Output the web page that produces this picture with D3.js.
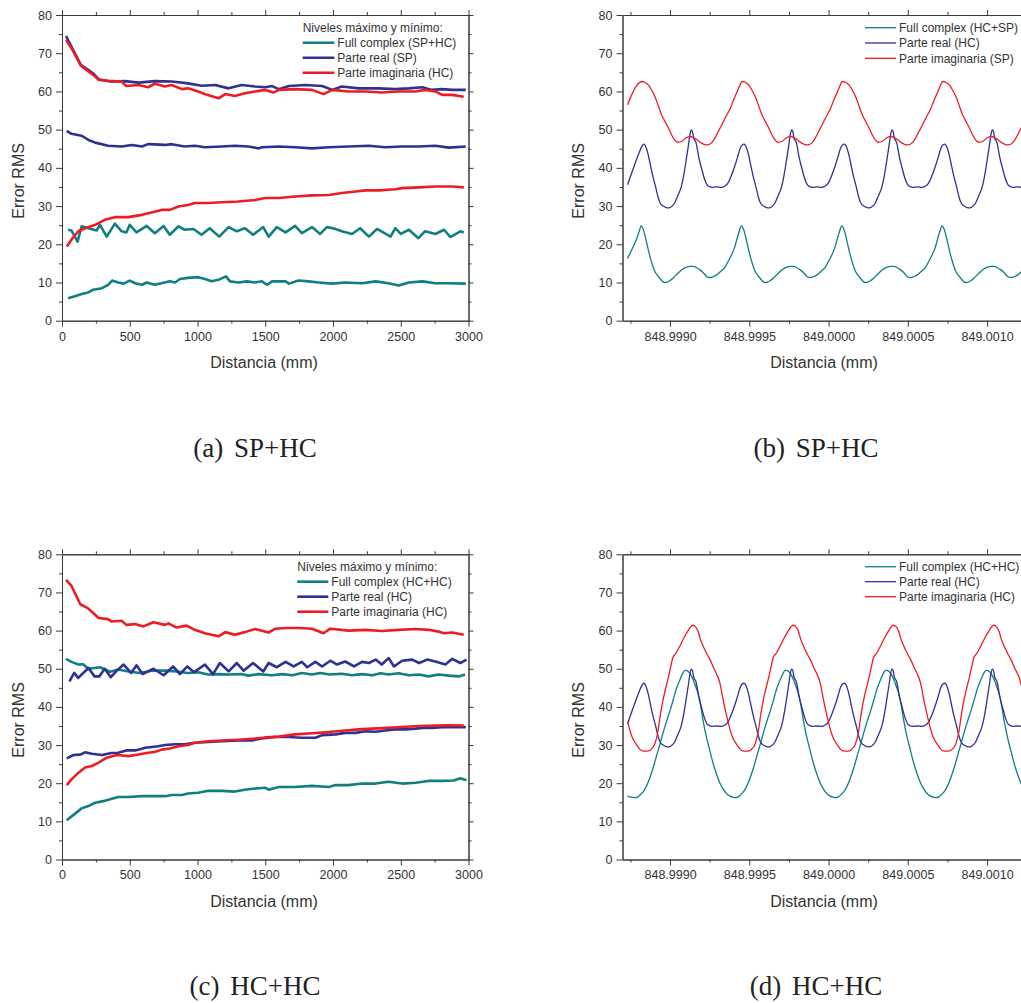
<!DOCTYPE html>
<html><head><meta charset="utf-8">
<script src="https://cdn.jsdelivr.net/npm/d3@7"></script>
<style>body{margin:0;background:#fff}svg{display:block}</style>
</head><body>
<script>
// ---------- DATA ----------
// Panel (a) SP+HC  [Distancia mm, Error RMS]
const aTealMax=[[45,23.8],[70,23.6],[115,20.7],[145,24.7],[195,24.2],[255,23.6],[280,25.1],[330,22.0],[390,25.4],[440,23.4],[475,23.1],[500,25.1],[550,23.1],[625,24.8],[685,22.9],[750,24.8],[795,22.5],[860,24.7],[905,23.8],[970,24.0],[1030,22.5],[1090,24.2],[1160,22.0],[1230,24.5],[1290,23.4],[1350,24.2],[1410,22.5],[1485,24.5],[1525,22.0],[1585,24.5],[1650,23.1],[1720,24.8],[1770,22.9],[1845,24.5],[1905,22.7],[1955,24.5],[2010,24.1],[2065,23.4],[2140,22.7],[2200,24.2],[2265,22.0],[2325,24.0],[2425,22.0],[2460,24.2],[2500,22.7],[2560,23.8],[2630,21.6],[2680,23.4],[2755,22.7],[2820,23.8],[2865,21.9],[2940,23.4],[2965,23.1]];
const aTealMin=[[45,5.9],[95,6.4],[145,7.0],[195,7.4],[230,8.1],[295,8.5],[340,9.4],[370,10.5],[415,10.0],[455,9.7],[500,10.5],[540,9.8],[590,9.4],[625,10.0],[685,9.4],[735,9.8],[795,10.3],[835,10.0],[870,10.9],[930,11.2],[1005,11.4],[1055,10.9],[1105,10.3],[1155,10.7],[1210,11.6],[1240,10.3],[1300,10.0],[1365,10.3],[1425,10.0],[1475,10.3],[1515,9.4],[1550,10.3],[1650,10.3],[1675,9.7],[1745,10.5],[1820,10.3],[1895,10.0],[1995,9.7],[2090,10.0],[2215,9.8],[2315,10.3],[2410,9.8],[2485,9.2],[2560,10.0],[2660,10.3],[2755,9.8],[2855,9.8],[2980,9.7]];
const aBlueMax=[[30,74.5],[70,71.7],[140,66.9],[195,65.6],[230,64.7],[270,63.2],[355,62.6],[465,62.7],[565,62.3],[685,62.7],[810,62.6],[930,62.1],[1030,61.5],[1130,61.7],[1230,60.8],[1325,61.7],[1425,61.3],[1500,61.1],[1550,61.4],[1600,60.6],[1675,61.4],[1795,61.7],[1920,61.4],[1995,60.4],[2065,61.3],[2190,60.8],[2340,60.8],[2460,60.6],[2560,60.8],[2660,61.1],[2730,60.4],[2805,60.6],[2880,60.4],[2980,60.4]];
const aBlueMin=[[35,49.7],[70,48.9],[145,48.4],[195,47.3],[245,46.6],[340,45.8],[440,45.6],[515,46.0],[590,45.6],[635,46.2],[760,46.0],[810,46.2],[905,45.6],[980,45.8],[1055,45.4],[1180,45.6],[1275,45.8],[1375,45.6],[1450,45.1],[1475,45.4],[1600,45.6],[1720,45.4],[1845,45.1],[1970,45.4],[2115,45.6],[2265,45.8],[2385,45.4],[2510,45.6],[2635,45.6],[2755,45.8],[2855,45.3],[2980,45.6]];
const aRedMax=[[30,73.5],[70,71.3],[140,66.7],[195,65.2],[245,63.9],[270,63.0],[340,62.8],[440,62.6],[475,61.4],[565,61.7],[635,61.1],[685,62.0],[760,61.3],[810,61.7],[885,60.6],[930,60.8],[1005,60.0],[1070,59.1],[1155,58.2],[1205,59.3],[1275,58.8],[1350,59.5],[1425,60.0],[1500,60.4],[1560,59.7],[1600,60.4],[1720,60.6],[1845,60.4],[1930,59.3],[1995,60.4],[2115,60.0],[2240,60.0],[2360,59.7],[2485,60.0],[2610,60.0],[2680,60.4],[2755,60.0],[2805,59.1],[2880,59.1],[2965,58.6]];
const aRedMin=[[35,19.4],[70,21.2],[120,23.4],[170,24.2],[245,25.1],[315,26.4],[390,27.1],[490,27.1],[590,27.7],[660,28.3],[735,29.0],[795,29.0],[860,29.9],[930,30.3],[980,30.8],[1080,30.8],[1180,31.0],[1300,31.2],[1425,31.6],[1500,32.1],[1600,32.1],[1720,32.5],[1845,32.8],[1970,32.9],[2065,33.4],[2165,33.8],[2240,34.1],[2340,34.1],[2460,34.4],[2510,34.7],[2635,34.9],[2755,35.1],[2880,35.1],[2965,34.9]];

// Panel (c) HC+HC
const cTealMax=[[30,52.6],[70,51.8],[120,51.1],[155,51.2],[195,50.0],[280,50.4],[355,49.2],[415,49.8],[490,49.3],[575,48.9],[660,49.5],[760,49.5],[845,49.3],[930,48.9],[1005,49.1],[1080,48.5],[1155,48.6],[1230,48.5],[1325,48.6],[1375,48.2],[1450,48.6],[1550,48.3],[1625,48.6],[1700,48.3],[1770,48.9],[1845,48.5],[1905,48.9],[1980,48.5],[2065,48.7],[2140,48.3],[2215,48.6],[2290,48.3],[2350,48.8],[2410,48.5],[2485,48.8],[2560,48.3],[2635,48.5],[2705,48.0],[2780,48.5],[2855,48.2],[2930,48.0],[2975,48.5]];
const cTealMin=[[35,10.3],[85,11.7],[145,13.4],[195,14.0],[245,14.9],[305,15.3],[355,15.8],[415,16.4],[490,16.4],[590,16.6],[685,16.6],[760,16.6],[810,16.9],[885,16.9],[930,17.3],[1005,17.5],[1080,18.0],[1180,18.0],[1275,17.8],[1350,18.3],[1425,18.6],[1500,18.8],[1525,18.3],[1600,19.0],[1720,19.0],[1845,19.3],[1970,19.0],[2020,19.5],[2115,19.5],[2215,19.9],[2315,19.9],[2410,20.4],[2510,19.9],[2610,20.1],[2705,20.6],[2805,20.6],[2890,20.7],[2940,21.3],[2985,20.8]];
const cBlueMax=[[55,46.7],[90,48.9],[120,47.6],[195,50.2],[240,48.0],[275,48.0],[315,50.0],[360,47.8],[405,49.5],[455,51.1],[510,48.9],[550,50.9],[595,48.6],[675,50.0],[750,48.3],[820,50.6],[870,48.6],[925,50.6],[975,49.1],[1055,51.1],[1115,48.6],[1165,51.5],[1230,49.3],[1290,51.5],[1340,49.5],[1410,51.5],[1485,49.3],[1525,51.5],[1585,50.4],[1650,51.8],[1710,50.6],[1770,51.8],[1810,50.4],[1870,51.8],[1920,50.6],[1980,52.1],[2030,51.1],[2090,51.9],[2155,50.6],[2215,51.8],[2265,51.5],[2315,52.4],[2360,51.1],[2410,52.8],[2450,50.6],[2510,52.1],[2585,52.4],[2635,51.5],[2695,52.4],[2755,51.9],[2830,51.1],[2880,52.6],[2940,51.5],[2985,52.4]];
const cBlueMin=[[35,26.5],[85,27.4],[135,27.5],[170,28.1],[220,27.7],[295,27.4],[365,27.9],[415,28.0],[475,28.6],[540,28.6],[615,29.3],[710,29.7],[760,30.0],[835,30.2],[905,30.2],[980,30.6],[1080,30.8],[1180,31.0],[1300,31.2],[1400,31.2],[1475,31.7],[1575,32.1],[1675,32.1],[1770,31.9],[1870,31.9],[1920,32.6],[2020,32.8],[2090,33.2],[2165,33.2],[2240,33.6],[2315,33.5],[2385,33.8],[2460,34.1],[2535,34.1],[2610,34.3],[2660,34.5],[2730,34.5],[2805,34.7],[2880,34.7],[2980,34.7]];
const cRedMax=[[30,73.3],[70,71.7],[135,66.9],[190,65.9],[230,64.6],[270,63.3],[340,63.0],[365,62.4],[440,62.6],[475,61.5],[540,61.7],[600,61.1],[675,62.2],[760,61.5],[785,61.9],[845,60.8],[920,61.3],[980,60.2],[1055,59.3],[1155,58.5],[1205,59.6],[1275,58.9],[1350,59.6],[1425,60.4],[1525,59.5],[1575,60.5],[1650,60.7],[1745,60.7],[1845,60.5],[1930,59.3],[1980,60.5],[2115,60.0],[2240,60.2],[2360,59.9],[2485,60.2],[2610,60.4],[2705,60.2],[2770,59.8],[2820,59.3],[2880,59.5],[2965,58.9]];
const cRedMin=[[35,19.5],[70,21.0],[120,22.7],[170,24.1],[220,24.5],[270,25.4],[330,26.7],[405,27.4],[490,27.1],[565,27.5],[635,28.0],[685,28.2],[735,28.8],[795,29.1],[860,29.7],[930,30.0],[980,30.6],[1080,31.0],[1180,31.2],[1300,31.4],[1425,31.7],[1500,32.0],[1600,32.2],[1720,32.8],[1845,33.1],[1970,33.4],[2090,33.8],[2190,34.1],[2290,34.3],[2410,34.5],[2535,34.8],[2635,35.0],[2755,35.1],[2855,35.2],[2965,35.1]];

// Panel (b) HC+SP  [Distancia mm, Error RMS]
const bTeal=[[848.998732,16.3],[848.998768,19.4],[848.998790,21.5],[848.998805,23.3],[848.998817,24.8],[848.998830,24.0],[848.998853,20.3],[848.998867,17.8],[848.998885,15.1],[848.998905,12.8],[848.998926,11.6],[848.998943,10.7],[848.998964,10.0],[848.998981,10.1],[848.999000,10.5],[848.999025,11.4],[848.999052,12.5],[848.999076,13.4],[848.999105,14.0],[848.999126,14.2],[848.999147,14.2],[848.999170,13.8],[848.999189,13.3],[848.999208,12.6],[848.999221,12.0],[848.999233,11.5],[848.999252,11.3],[848.999271,11.5],[848.999295,12.0],[848.999322,13.0],[848.999347,14.0],[848.999366,15.5],[848.999389,17.3],[848.999404,18.8],[848.999421,21.2],[848.999435,23.2],
[848.999450,24.8],[848.999463,24.0],[848.999486,20.3],[848.999500,17.8],[848.999518,15.1],[848.999538,12.8],[848.999559,11.6],[848.999576,10.7],[848.999597,10.0],[848.999614,10.1],[848.999633,10.5],[848.999658,11.4],[848.999685,12.5],[848.999709,13.4],[848.999738,14.0],[848.999759,14.2],[848.999780,14.2],[848.999803,13.8],[848.999822,13.3],[848.999841,12.6],[848.999854,12.0],[848.999866,11.5],[848.999885,11.3],[848.999904,11.5],[848.999928,12.0],[848.999955,13.0],[848.999980,14.0],[848.999999,15.5],[849.000022,17.3],[849.000037,18.8],[849.000054,21.2],[849.000068,23.2],
[849.000083,24.8],[849.000096,24.0],[849.000119,20.3],[849.000133,17.8],[849.000151,15.1],[849.000171,12.8],[849.000192,11.6],[849.000209,10.7],[849.000230,10.0],[849.000247,10.1],[849.000266,10.5],[849.000291,11.4],[849.000318,12.5],[849.000342,13.4],[849.000371,14.0],[849.000392,14.2],[849.000413,14.2],[849.000436,13.8],[849.000455,13.3],[849.000474,12.6],[849.000487,12.0],[849.000499,11.5],[849.000518,11.3],[849.000537,11.5],[849.000561,12.0],[849.000588,13.0],[849.000613,14.0],[849.000632,15.5],[849.000655,17.3],[849.000670,18.8],[849.000687,21.2],[849.000701,23.2],
[849.000716,24.8],[849.000729,24.0],[849.000752,20.3],[849.000766,17.8],[849.000784,15.1],[849.000804,12.8],[849.000825,11.6],[849.000842,10.7],[849.000863,10.0],[849.000880,10.1],[849.000899,10.5],[849.000924,11.4],[849.000951,12.5],[849.000975,13.4],[849.001004,14.0],[849.001025,14.2],[849.001046,14.2],[849.001069,13.8],[849.001088,13.3],[849.001107,12.6],[849.001120,12.0],[849.001132,11.5],[849.001151,11.3],[849.001170,11.5],[849.001194,12.0],[849.001221,13.0],[849.001246,14.0],[849.001265,15.5],[849.001288,17.3],[849.001303,18.8]];
const bdBlue=[[848.998732,35.6],[848.998765,39.5],[848.998808,44.3],[848.998824,45.8],[848.998833,46.2],[848.998842,45.9],[848.998860,43.8],[848.998877,40.5],[848.998892,37.7],[848.998909,35.0],[848.998923,32.5],[848.998940,30.6],[848.998961,29.9],[848.998986,29.5],[848.999003,29.7],[848.999029,30.8],[848.999048,32.6],[848.999071,35.1],[848.999085,37.8],[848.999102,42.1],[848.999117,46.2],[848.999126,48.8],[848.999134,49.9],[848.999141,49.6],[848.999148,48.0],[848.999165,46.4],[848.999180,43.0],[848.999201,39.5],[848.999218,37.0],[848.999239,35.3],[848.999264,34.9],[848.999294,35.0],[848.999323,34.9],[848.999344,35.2],[848.999365,36.0],[848.999382,37.5],[848.999407,40.3],[848.999426,42.8],[848.999439,44.7],[848.999451,45.8],
[848.999466,46.2],[848.999475,45.9],[848.999493,43.8],[848.999510,40.5],[848.999525,37.7],[848.999542,35.0],[848.999556,32.5],[848.999573,30.6],[848.999594,29.9],[848.999619,29.5],[848.999636,29.7],[848.999662,30.8],[848.999681,32.6],[848.999704,35.1],[848.999718,37.8],[848.999735,42.1],[848.999750,46.2],[848.999759,48.8],[848.999767,49.9],[848.999774,49.6],[848.999781,48.0],[848.999798,46.4],[848.999813,43.0],[848.999834,39.5],[848.999851,37.0],[848.999872,35.3],[848.999897,34.9],[848.999927,35.0],[848.999956,34.9],[848.999977,35.2],[848.999998,36.0],[849.000015,37.5],[849.000040,40.3],[849.000059,42.8],[849.000072,44.7],[849.000084,45.8],
[849.000099,46.2],[849.000108,45.9],[849.000126,43.8],[849.000143,40.5],[849.000158,37.7],[849.000175,35.0],[849.000189,32.5],[849.000206,30.6],[849.000227,29.9],[849.000252,29.5],[849.000269,29.7],[849.000295,30.8],[849.000314,32.6],[849.000337,35.1],[849.000351,37.8],[849.000368,42.1],[849.000383,46.2],[849.000392,48.8],[849.000400,49.9],[849.000407,49.6],[849.000414,48.0],[849.000431,46.4],[849.000446,43.0],[849.000467,39.5],[849.000484,37.0],[849.000505,35.3],[849.000530,34.9],[849.000560,35.0],[849.000589,34.9],[849.000610,35.2],[849.000631,36.0],[849.000648,37.5],[849.000673,40.3],[849.000692,42.8],[849.000705,44.7],[849.000717,45.8],
[849.000732,46.2],[849.000741,45.9],[849.000759,43.8],[849.000776,40.5],[849.000791,37.7],[849.000808,35.0],[849.000822,32.5],[849.000839,30.6],[849.000860,29.9],[849.000885,29.5],[849.000902,29.7],[849.000928,30.8],[849.000947,32.6],[849.000970,35.1],[849.000984,37.8],[849.001001,42.1],[849.001016,46.2],[849.001025,48.8],[849.001033,49.9],[849.001040,49.6],[849.001047,48.0],[849.001064,46.4],[849.001079,43.0],[849.001100,39.5],[849.001117,37.0],[849.001138,35.3],[849.001163,34.9],[849.001193,35.0],[849.001222,34.9],[849.001243,35.2],[849.001264,36.0],[849.001281,37.5],[849.001306,40.3]];
const bRed=[[848.998732,56.5],[848.998760,59.3],[848.998790,61.6],[848.998808,62.3],[848.998821,62.6],[848.998840,62.4],[848.998863,61.7],[848.998884,60.3],[848.998905,58.6],[848.998928,56.0],[848.998947,53.8],[848.998966,52.3],[848.998985,50.8],[848.999010,48.6],[848.999029,47.3],[848.999048,46.7],[848.999073,46.9],[848.999099,47.8],[848.999126,48.2],[848.999149,47.9],[848.999168,47.4],[848.999193,46.6],[848.999218,46.1],[848.999237,46.0],[848.999263,46.6],[848.999283,47.8],[848.999307,49.7],[848.999326,51.2],[848.999351,53.3],[848.999378,55.4],[848.999401,57.8],[848.999420,59.6],[848.999439,61.5],
[848.999454,62.6],[848.999473,62.4],[848.999496,61.7],[848.999517,60.3],[848.999538,58.6],[848.999561,56.0],[848.999580,53.8],[848.999599,52.3],[848.999618,50.8],[848.999643,48.6],[848.999662,47.3],[848.999681,46.7],[848.999706,46.9],[848.999732,47.8],[848.999759,48.2],[848.999782,47.9],[848.999801,47.4],[848.999826,46.6],[848.999851,46.1],[848.999870,46.0],[848.999896,46.6],[848.999916,47.8],[848.999940,49.7],[848.999959,51.2],[848.999984,53.3],[849.000011,55.4],[849.000034,57.8],[849.000053,59.6],[849.000072,61.5],
[849.000087,62.6],[849.000106,62.4],[849.000129,61.7],[849.000150,60.3],[849.000171,58.6],[849.000194,56.0],[849.000213,53.8],[849.000232,52.3],[849.000251,50.8],[849.000276,48.6],[849.000295,47.3],[849.000314,46.7],[849.000339,46.9],[849.000365,47.8],[849.000392,48.2],[849.000415,47.9],[849.000434,47.4],[849.000459,46.6],[849.000484,46.1],[849.000503,46.0],[849.000529,46.6],[849.000549,47.8],[849.000573,49.7],[849.000592,51.2],[849.000617,53.3],[849.000644,55.4],[849.000667,57.8],[849.000686,59.6],[849.000705,61.5],
[849.000720,62.6],[849.000739,62.4],[849.000762,61.7],[849.000783,60.3],[849.000804,58.6],[849.000827,56.0],[849.000846,53.8],[849.000865,52.3],[849.000884,50.8],[849.000909,48.6],[849.000928,47.3],[849.000947,46.7],[849.000972,46.9],[849.000998,47.8],[849.001025,48.2],[849.001048,47.9],[849.001067,47.4],[849.001092,46.6],[849.001117,46.1],[849.001136,46.0],[849.001162,46.6],[849.001182,47.8],[849.001206,49.7],[849.001225,51.2],[849.001250,53.3],[849.001277,55.4],[849.001300,57.8]];

// Panel (d) HC+HC
const dTeal=[[848.998732,16.6],[848.998745,16.4],[848.998766,16.3],[848.998781,16.2],[848.998796,16.4],[848.998813,17.0],[848.998831,17.8],[848.998852,19.3],[848.998873,21.5],[848.998894,24.1],[848.998915,27.2],[848.998936,30.2],[848.998951,32.5],[848.998968,34.9],[848.998983,36.9],[848.998999,38.9],[848.999021,42.0],[848.999042,45.0],[848.999059,46.8],[848.999073,48.2],[848.999085,49.2],
[848.999094,49.6],[848.999107,49.5],[848.999119,49.1],[848.999134,48.2],[848.999146,47.1],[848.999162,45.3],[848.999178,43.2],[848.999192,40.5],[848.999209,36.3],[848.999230,32.0],[848.999252,28.4],[848.999271,25.3],[848.999294,22.3],[848.999315,20.0],[848.999336,18.4],[848.999356,17.3],[848.999378,16.6],[848.999399,16.3],[848.999414,16.2],[848.999429,16.4],[848.999446,17.0],[848.999464,17.8],[848.999485,19.3],[848.999506,21.5],[848.999527,24.1],[848.999548,27.2],[848.999569,30.2],[848.999584,32.5],[848.999601,34.9],[848.999616,36.9],[848.999632,38.9],[848.999654,42.0],[848.999675,45.0],[848.999692,46.8],[848.999706,48.2],[848.999718,49.2],
[848.999727,49.6],[848.999740,49.5],[848.999752,49.1],[848.999767,48.2],[848.999779,47.1],[848.999795,45.3],[848.999811,43.2],[848.999825,40.5],[848.999842,36.3],[848.999863,32.0],[848.999885,28.4],[848.999904,25.3],[848.999927,22.3],[848.999948,20.0],[848.999969,18.4],[848.999989,17.3],[849.000011,16.6],[849.000032,16.3],[849.000047,16.2],[849.000062,16.4],[849.000079,17.0],[849.000097,17.8],[849.000118,19.3],[849.000139,21.5],[849.000160,24.1],[849.000181,27.2],[849.000202,30.2],[849.000217,32.5],[849.000234,34.9],[849.000249,36.9],[849.000265,38.9],[849.000287,42.0],[849.000308,45.0],[849.000325,46.8],[849.000339,48.2],[849.000351,49.2],
[849.000360,49.6],[849.000373,49.5],[849.000385,49.1],[849.000400,48.2],[849.000412,47.1],[849.000428,45.3],[849.000444,43.2],[849.000458,40.5],[849.000475,36.3],[849.000496,32.0],[849.000518,28.4],[849.000537,25.3],[849.000560,22.3],[849.000581,20.0],[849.000602,18.4],[849.000622,17.3],[849.000644,16.6],[849.000665,16.3],[849.000680,16.2],[849.000695,16.4],[849.000712,17.0],[849.000730,17.8],[849.000751,19.3],[849.000772,21.5],[849.000793,24.1],[849.000814,27.2],[849.000835,30.2],[849.000850,32.5],[849.000867,34.9],[849.000882,36.9],[849.000898,38.9],[849.000920,42.0],[849.000941,45.0],[849.000958,46.8],[849.000972,48.2],[849.000984,49.2],
[849.000993,49.6],[849.001006,49.5],[849.001018,49.1],[849.001033,48.2],[849.001045,47.1],[849.001061,45.3],[849.001077,43.2],[849.001091,40.5],[849.001108,36.3],[849.001129,32.0],[849.001151,28.4],[849.001170,25.3],[849.001193,22.3],[849.001214,20.0],[849.001235,18.4],[849.001255,17.3],[849.001277,16.6],[849.001298,16.3]];
const dRed=[[848.998732,36.2],[848.998745,34.1],[848.998762,32.0],[848.998787,30.2],[848.998807,29.0],[848.998825,28.5],[848.998846,28.4],[848.998865,28.5],[848.998878,28.8],[848.998903,30.2],[848.998922,33.2],[848.998941,38.5],[848.998954,41.5],[848.998973,45.0],[848.998988,47.5],[848.999004,50.5],[848.999017,52.8],[848.999036,54.0],[848.999061,55.9],[848.999086,58.0],[848.999111,59.8],[848.999130,61.0],
[848.999143,61.4],[848.999156,61.2],[848.999175,60.0],[848.999193,57.5],[848.999209,55.9],[848.999231,54.0],[848.999252,52.4],[848.999275,50.2],[848.999294,48.6],[848.999313,46.5],[848.999321,45.0],[848.999332,42.5],[848.999346,39.7],[848.999364,36.5],[848.999378,34.1],[848.999395,32.0],[848.999420,30.2],[848.999440,29.0],[848.999458,28.5],[848.999479,28.4],[848.999498,28.5],[848.999511,28.8],[848.999536,30.2],[848.999555,33.2],[848.999574,38.5],[848.999587,41.5],[848.999606,45.0],[848.999621,47.5],[848.999637,50.5],[848.999650,52.8],[848.999669,54.0],[848.999694,55.9],[848.999719,58.0],[848.999744,59.8],[848.999763,61.0],
[848.999776,61.4],[848.999789,61.2],[848.999808,60.0],[848.999826,57.5],[848.999842,55.9],[848.999864,54.0],[848.999885,52.4],[848.999908,50.2],[848.999927,48.6],[848.999946,46.5],[848.999954,45.0],[848.999965,42.5],[848.999979,39.7],[848.999997,36.5],[849.000011,34.1],[849.000028,32.0],[849.000053,30.2],[849.000073,29.0],[849.000091,28.5],[849.000112,28.4],[849.000131,28.5],[849.000144,28.8],[849.000169,30.2],[849.000188,33.2],[849.000207,38.5],[849.000220,41.5],[849.000239,45.0],[849.000254,47.5],[849.000270,50.5],[849.000283,52.8],[849.000302,54.0],[849.000327,55.9],[849.000352,58.0],[849.000377,59.8],[849.000396,61.0],
[849.000409,61.4],[849.000422,61.2],[849.000441,60.0],[849.000459,57.5],[849.000475,55.9],[849.000497,54.0],[849.000518,52.4],[849.000541,50.2],[849.000560,48.6],[849.000579,46.5],[849.000587,45.0],[849.000598,42.5],[849.000612,39.7],[849.000630,36.5],[849.000644,34.1],[849.000661,32.0],[849.000686,30.2],[849.000706,29.0],[849.000724,28.5],[849.000745,28.4],[849.000764,28.5],[849.000777,28.8],[849.000802,30.2],[849.000821,33.2],[849.000840,38.5],[849.000853,41.5],[849.000872,45.0],[849.000887,47.5],[849.000903,50.5],[849.000916,52.8],[849.000935,54.0],[849.000960,55.9],[849.000985,58.0],[849.001010,59.8],[849.001029,61.0],
[849.001042,61.4],[849.001055,61.2],[849.001074,60.0],[849.001092,57.5],[849.001108,55.9],[849.001130,54.0],[849.001151,52.4],[849.001174,50.2],[849.001193,48.6],[849.001212,46.5],[849.001220,45.0],[849.001231,42.5],[849.001245,39.7],[849.001263,36.5],[849.001277,34.1],[849.001294,32.0]];

// Ticks and labels
const yMajor=[0,10,20,30,40,50,60,70,80];
const yMinor=[5,15,25,35,45,55,65,75];
const xMajorA=[0,500,1000,1500,2000,2500,3000];
const xMinorA=[250,750,1250,1750,2250,2750];
const xMajorB=[848.9990,848.9995,849.0000,849.0005,849.0010];
const xMinorB=[848.99875,848.99925,848.99975,849.00025,849.00075,849.00125];
const legendA=["Full complex (SP+HC)","Parte real (SP)","Parte imaginaria (HC)"];
const legendB=["Full complex (HC+SP)","Parte real (HC)","Parte imaginaria (SP)"];
const legendC=["Full complex (HC+HC)","Parte real (HC)","Parte imaginaria (HC)"];
const legendD=["Full complex (HC+HC)","Parte real (HC)","Parte imaginaria (HC)"];
const legendTitle="Niveles máximo y mínimo:";
const captions=["(a) SP+HC","(b) SP+HC","(c) HC+HC","(d) HC+HC"];
const yTitle="Error RMS", xTitle="Distancia (mm)";

// ---------- DRAW ----------
const W=1021,H=1003;
const COL={teal:"#0f7f80",blue:"#2e3192",red:"#ed1c24"};
const FONT="'Liberation Sans', Arial, sans-serif";
const svg=d3.select("body").append("svg").attr("width",W).attr("height",H)
  .style("font-family",FONT);

function styleAxis(g,size){
  g.attr("font-family",FONT).attr("font-size",size||12.5);
  g.select(".domain").attr("stroke","#3a3a3a").attr("stroke-width",1);
  g.selectAll(".tick line").attr("stroke","#3a3a3a").attr("stroke-width",1);
  g.selectAll(".tick text").attr("fill","#333");
}

function panel(cfg){
  const g=svg.append("g");
  const x=d3.scaleLinear().domain(cfg.xDomain).range([cfg.x0,cfg.x1]);
  const y=d3.scaleLinear().domain([0,80]).range([cfg.y1,cfg.y0]);
  const line=d3.line().x(d=>x(d[0])).y(d=>y(d[1])).curve(cfg.curve);
  // series (max levels / main curves, then min levels)
  cfg.series.forEach(s=>{
    g.append("path").datum(s.data).attr("fill","none").attr("stroke",s.color)
      .attr("stroke-width",cfg.lw).attr("stroke-linejoin","round").attr("d",line);
  });
  (cfg.extra||[]).forEach(s=>{
    g.append("path").datum(s.data).attr("fill","none").attr("stroke",s.color)
      .attr("stroke-width",cfg.lw).attr("stroke-linejoin","round").attr("d",line);
  });
  // axes
  const fmt=cfg.fmt;
  styleAxis(g.append("g").attr("transform",`translate(${cfg.x0},0)`)
    .call(d3.axisLeft(y).tickValues(yMajor).tickSize(6).tickPadding(4).tickSizeOuter(0)));
  styleAxis(g.append("g").attr("transform",`translate(${cfg.x0},0)`)
    .call(d3.axisLeft(y).tickValues(yMinor).tickSize(3).tickFormat("").tickSizeOuter(0)));
  styleAxis(g.append("g").attr("transform",`translate(0,${cfg.y1})`)
    .call(d3.axisBottom(x).tickValues(cfg.xMajor).tickSize(6).tickPadding(5).tickFormat(fmt).tickSizeOuter(0)));
  styleAxis(g.append("g").attr("transform",`translate(0,${cfg.y1})`)
    .call(d3.axisBottom(x).tickValues(cfg.xMinor).tickSize(3).tickFormat("").tickSizeOuter(0)));
  styleAxis(g.append("g").attr("transform",`translate(0,${cfg.y0})`)
    .call(d3.axisTop(x).tickValues(cfg.xMajor).tickSize(5).tickFormat("").tickSizeOuter(0)));
  styleAxis(g.append("g").attr("transform",`translate(0,${cfg.y0})`)
    .call(d3.axisTop(x).tickValues(cfg.xMinor).tickSize(3).tickFormat("").tickSizeOuter(0)));
  if(cfg.right){
    styleAxis(g.append("g").attr("transform",`translate(${cfg.x1},0)`)
      .call(d3.axisRight(y).tickValues(yMajor).tickSize(5).tickFormat("").tickSizeOuter(0)));
    styleAxis(g.append("g").attr("transform",`translate(${cfg.x1},0)`)
      .call(d3.axisRight(y).tickValues(yMinor).tickSize(3).tickFormat("").tickSizeOuter(0)));
  }
  // axis titles
  g.append("text").attr("transform",`translate(${cfg.yTitleX},${(cfg.y0+cfg.y1)/2+13}) rotate(-90)`)
    .attr("text-anchor","middle").attr("font-size",16).attr("fill","#333").text(yTitle);
  g.append("text").attr("x",cfg.xTitleX).attr("y",cfg.y1+47.5)
    .attr("text-anchor","middle").attr("font-size",16).attr("fill","#333").text(xTitle);
  // legend
  const L=cfg.legend;
  if(L.title){
    g.append("text").attr("x",L.x).attr("y",L.y0-11.2).attr("font-size",12).attr("fill","#333").text(legendTitle);
  }
  L.labels.forEach((t,i)=>{
    const yy=L.y0+i*L.dy;
    g.append("line").attr("x1",L.x).attr("x2",L.x+L.len).attr("y1",yy).attr("y2",yy)
      .attr("stroke",cfg.series[i].color).attr("stroke-width",cfg.lw);
    g.append("text").attr("x",L.x+L.len+3).attr("y",yy+4.3).attr("font-size",12).attr("fill","#333").text(t);
  });
  // caption
  svg.append("text").attr("x",cfg.capX).attr("y",cfg.capY).attr("text-anchor","middle")
    .attr("font-family","'Liberation Serif', 'DejaVu Serif', serif").attr("font-size",27)
    .attr("word-spacing",4).attr("fill","#222").text(cfg.caption);
}

const yTop1=15,yBot1=320.7,yTop2=554.3,yBot2=859.5;
const xA0=62,xA1=468.5,xB0=622.5,xB1=622.5+412.1;

panel({x0:xA0,x1:xA1,y0:yTop1,y1:yBot1,xDomain:[0,3000],xMajor:xMajorA,xMinor:xMinorA,fmt:d3.format("d"),
  curve:d3.curveLinear,lw:2.6,right:true,yTitleX:23.5,xTitleX:264,
  series:[{data:aTealMax,color:COL.teal},{data:aBlueMax,color:COL.blue},{data:aRedMax,color:COL.red}],
  extra:[{data:aTealMin,color:COL.teal},{data:aBlueMin,color:COL.blue},{data:aRedMin,color:COL.red}],
  legend:{title:true,x:302.7,y0:42.7,dy:15,len:31.6,labels:legendA},caption:captions[0],capX:255,capY:457});
panel({x0:xB0,x1:xB1,y0:yTop1,y1:yBot1,xDomain:[848.9987,849.0013],xMajor:xMajorB,xMinor:xMinorB,fmt:d3.format(".4f"),
  curve:d3.curveMonotoneX,lw:1.3,right:false,yTitleX:583.5,xTitleX:824,
  series:[{data:bTeal,color:COL.teal},{data:bdBlue,color:COL.blue},{data:bRed,color:COL.red}],
  legend:{title:false,x:865,y0:27.7,dy:15.3,len:31,labels:legendB},caption:captions[1],capX:816,capY:457});
panel({x0:xA0,x1:xA1,y0:yTop2,y1:yBot2,xDomain:[0,3000],xMajor:xMajorA,xMinor:xMinorA,fmt:d3.format("d"),
  curve:d3.curveLinear,lw:2.6,right:true,yTitleX:23.5,xTitleX:264,
  series:[{data:cTealMax,color:COL.teal},{data:cBlueMax,color:COL.blue},{data:cRedMax,color:COL.red}],
  extra:[{data:cTealMin,color:COL.teal},{data:cBlueMin,color:COL.blue},{data:cRedMin,color:COL.red}],
  legend:{title:true,x:297.3,y0:581.7,dy:15,len:31,labels:legendC},caption:captions[2],capX:255,capY:995});
panel({x0:xB0,x1:xB1,y0:yTop2,y1:yBot2,xDomain:[848.9987,849.0013],xMajor:xMajorB,xMinor:xMinorB,fmt:d3.format(".4f"),
  curve:d3.curveMonotoneX,lw:1.3,right:false,yTitleX:583.5,xTitleX:824,
  series:[{data:dTeal,color:COL.teal},{data:bdBlue,color:COL.blue},{data:dRed,color:COL.red}],
  legend:{title:false,x:865,y0:566.7,dy:15,len:31,labels:legendD},caption:captions[3],capX:816,capY:995});
</script>
</body></html>
